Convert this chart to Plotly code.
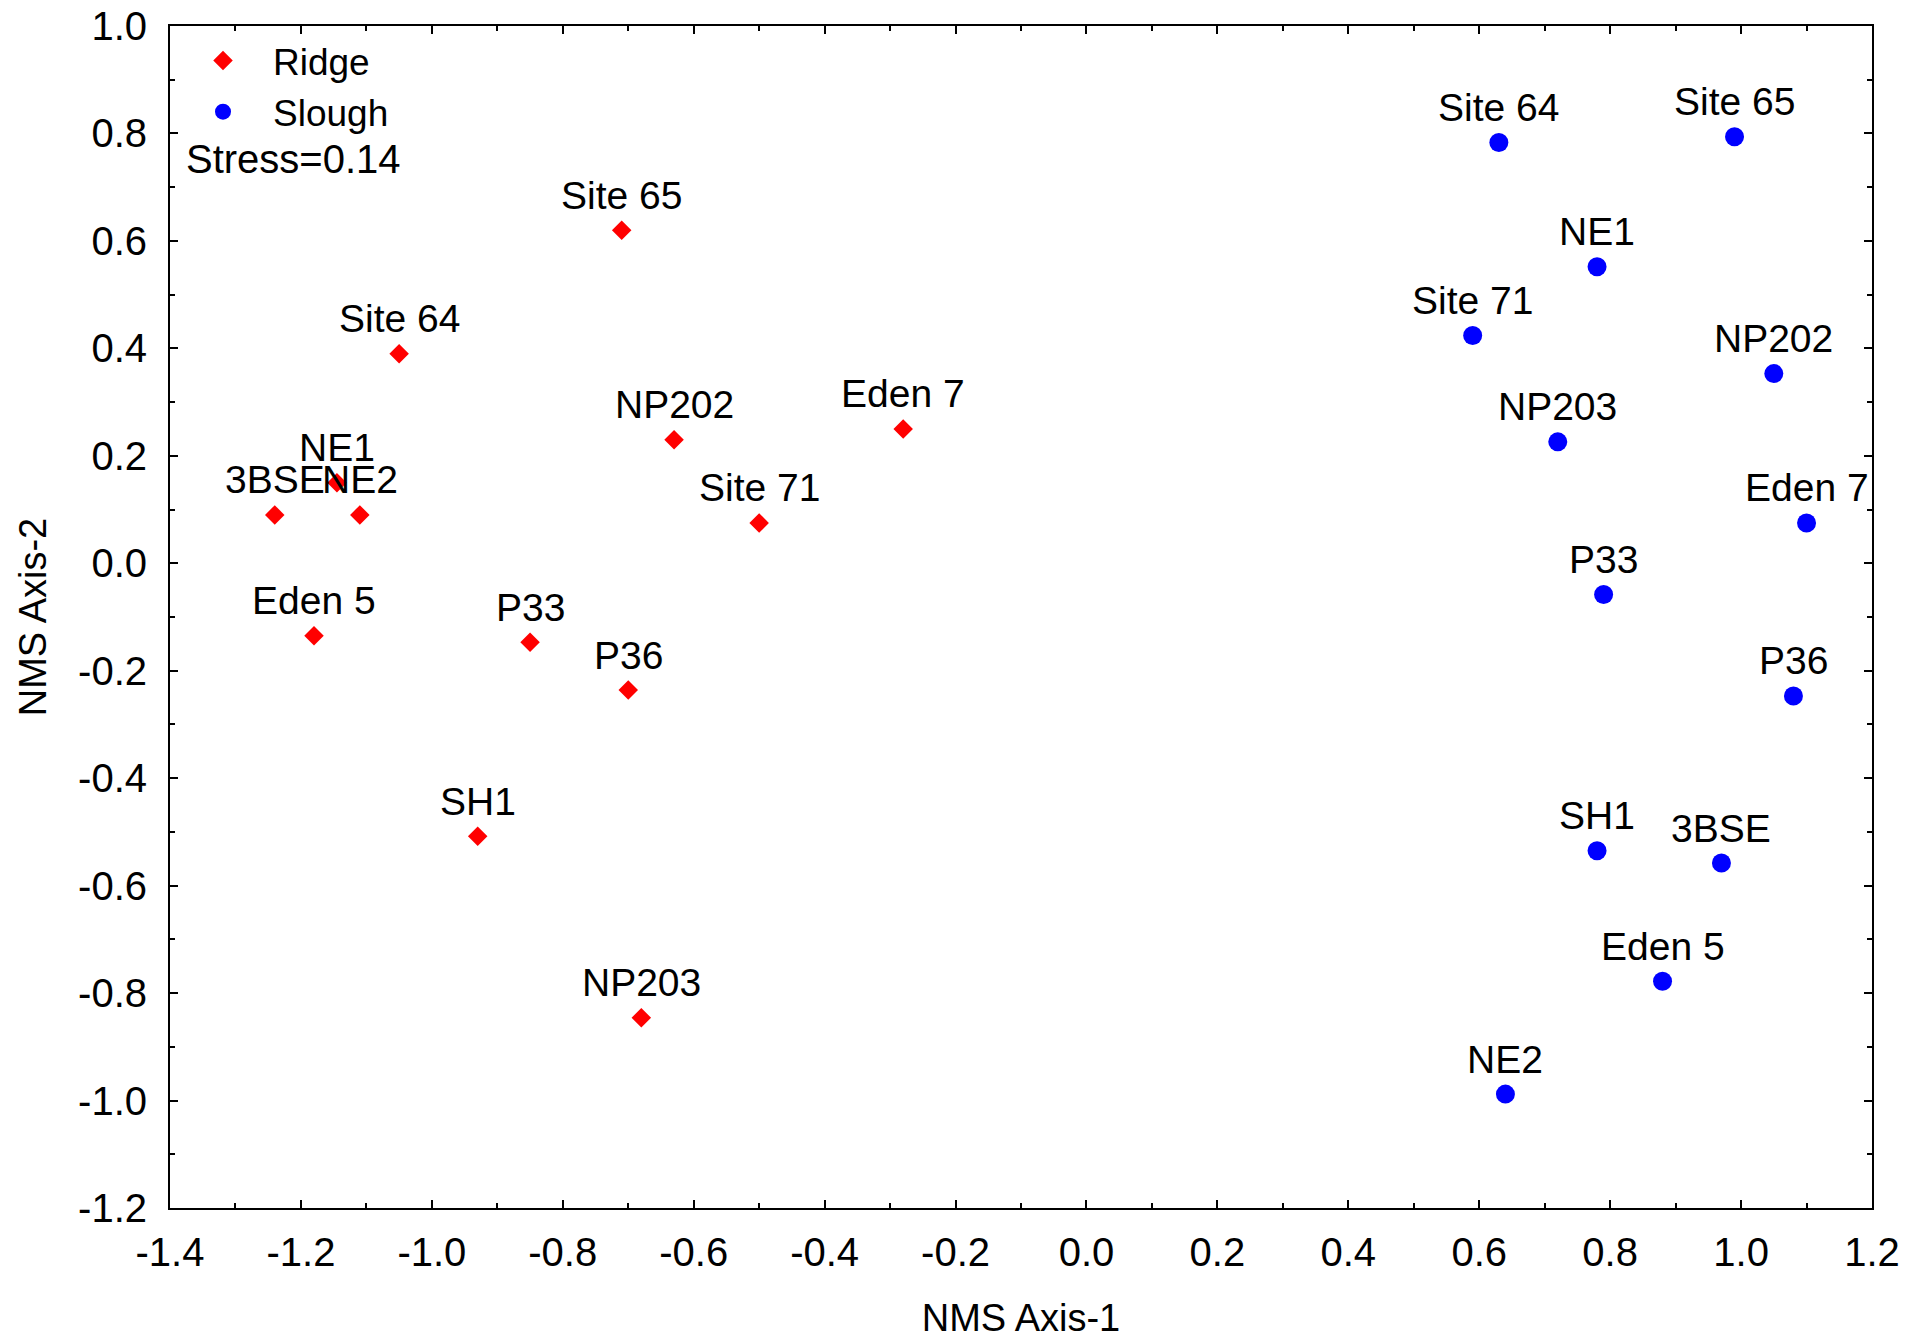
import plotly.graph_objects as go

# NMS ordination scores per site, split by habitat
ridge_sites = ["Site 65", "Site 64", "NP202", "Eden 7", "NE1", "3BSE", "NE2",
               "Site 71", "Eden 5", "P33", "P36", "SH1", "NP203"]
ridge_x = [-0.71, -1.05, -0.63, -0.28, -1.145, -1.24, -1.11,
           -0.50, -1.18, -0.85, -0.70, -0.93, -0.68]
ridge_y = [0.62, 0.39, 0.23, 0.25, 0.15, 0.09, 0.09,
           0.075, -0.135, -0.147, -0.236, -0.508, -0.846]

slough_sites = ["Site 64", "Site 65", "NE1", "Site 71", "NP202", "NP203", "Eden 7",
                "P33", "P36", "SH1", "3BSE", "Eden 5", "NE2"]
slough_x = [0.63, 0.99, 0.78, 0.59, 1.05, 0.72, 1.10,
            0.79, 1.08, 0.78, 0.97, 0.88, 0.64]
slough_y = [0.783, 0.794, 0.552, 0.424, 0.353, 0.226, 0.075,
            -0.058, -0.247, -0.535, -0.558, -0.778, -0.988]

stress_text = "Stress=0.14"

x_tickvals = [-1.4, -1.2, -1.0, -0.8, -0.6, -0.4, -0.2, 0.0, 0.2, 0.4, 0.6, 0.8, 1.0, 1.2]
x_ticktext = ["-1.4", "-1.2", "-1.0", "-0.8", "-0.6", "-0.4", "-0.2", "0.0",
              "0.2", "0.4", "0.6", "0.8", "1.0", "1.2"]
y_tickvals = [-1.2, -1.0, -0.8, -0.6, -0.4, -0.2, 0.0, 0.2, 0.4, 0.6, 0.8, 1.0]
y_ticktext = ["-1.2", "-1.0", "-0.8", "-0.6", "-0.4", "-0.2", "0.0",
              "0.2", "0.4", "0.6", "0.8", "1.0"]

FONT = "Arial, Liberation Sans, sans-serif"

W, H = 1923, 1341
ML, MR, MT, MB = 170, 51, 26, 133
plot_w = W - ML - MR
plot_h = H - MT - MB

fig = go.Figure()
fig.add_trace(go.Scatter(
    x=ridge_x, y=ridge_y, mode="markers", name="Ridge",
    marker=dict(symbol="diamond", size=15, color="#ff0000",
                line=dict(width=0)),
))
fig.add_trace(go.Scatter(
    x=slough_x, y=slough_y, mode="markers", name="Slough",
    marker=dict(symbol="circle", size=19, color="#0000ff",
                line=dict(width=0)),
))

# site labels sit centred above each point
annotations = []
for names, xs, ys in ((ridge_sites, ridge_x, ridge_y),
                      (slough_sites, slough_x, slough_y)):
    for n, x, y in zip(names, xs, ys):
        annotations.append(dict(
            x=x, y=y, xref="x", yref="y", text=n, showarrow=False,
            xanchor="center", yanchor="middle", yshift=35,
            font=dict(family=FONT, size=39, color="black"),
        ))

# stress value under the legend, placed in paper units
annotations.append(dict(
    x=(184 - ML) / plot_w, y=1 - (159 - MT) / plot_h,
    xref="paper", yref="paper", text=stress_text, showarrow=False,
    xanchor="left", yanchor="middle",
    font=dict(family=FONT, size=40, color="black"),
))

axis_common = dict(
    showline=True, linecolor="black", linewidth=2, mirror="ticks",
    ticks="inside", ticklen=8, tickwidth=1.5, tickcolor="black",
    showgrid=False, zeroline=False, automargin=False,
    tickfont=dict(family=FONT, size=40, color="black"),
    minor=dict(ticks="inside", ticklen=5, tickwidth=1.5, tickcolor="black",
               dtick=0.1, showgrid=False),
)

fig.update_layout(
    template="none",
    width=W, height=H,
    margin=dict(l=ML, r=MR, t=MT, b=MB, autoexpand=False),
    paper_bgcolor="white", plot_bgcolor="white",
    font=dict(family=FONT, color="black"),
    showlegend=True,
    legend=dict(
        x=(173 - ML) / plot_w, y=1 - 4 / plot_h, xanchor="left", yanchor="top",
        bgcolor="rgba(255,255,255,0)", borderwidth=0,
        font=dict(family=FONT, size=37, color="black"),
        itemwidth=90, itemsizing="trace",
    ),
    xaxis=dict(
        range=[-1.4, 1.2], tickvals=x_tickvals, ticktext=x_ticktext,
        title=dict(text="NMS Axis-1", font=dict(family=FONT, size=38), standoff=31),
        ticklabelstandoff=8,
        **axis_common,
    ),
    yaxis=dict(
        range=[-1.2, 1.0], tickvals=y_tickvals, ticktext=y_ticktext,
        title=dict(text="NMS Axis-2", font=dict(family=FONT, size=38), standoff=20),
        ticklabelstandoff=13,
        **axis_common,
    ),
    annotations=annotations,
)

fig.write_html("out.html")
